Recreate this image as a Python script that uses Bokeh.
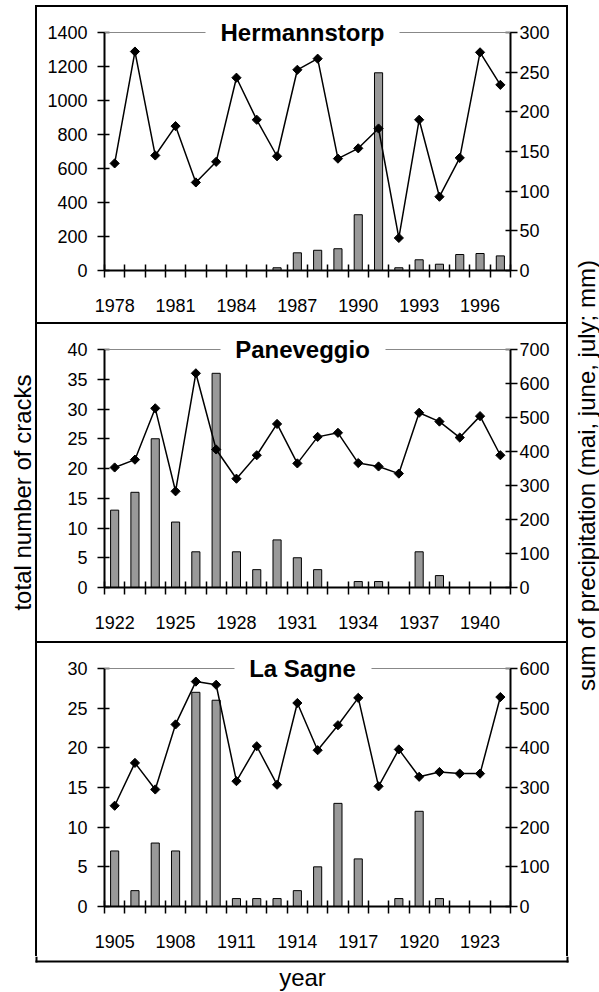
import numpy as np
from bokeh.plotting import figure
from bokeh.models import (Range1d, LinearAxis, FixedTicker, SingleIntervalTicker,
                          Label, BoxAnnotation, Spacer)
from bokeh.layouts import column, row
from bokeh.embed import file_html
from bokeh.resources import INLINE

FONT = "Liberation Sans"

# ---------------- data ----------------
herm_years = list(range(1978, 1998))
herm_cracks = [0, 0, 0, 0, 0, 0, 0, 0, 16, 104, 119, 128, 328, 1163, 16, 63, 37, 94, 100, 86]
herm_precip = [135, 276, 145, 182, 111, 137, 243, 190, 144, 253, 267, 141, 154, 179, 41, 190, 93, 142, 275, 234]
herm_labels = [1978, 1981, 1984, 1987, 1990, 1993, 1996]

pane_years = list(range(1922, 1942))
pane_cracks = [13, 16, 25, 11, 6, 36, 6, 3, 8, 5, 3, 0, 1, 1, 0, 6, 2, 0, 0, 0]
pane_precip = [353, 376, 527, 283, 630, 406, 320, 389, 481, 365, 443, 455, 366, 356, 335, 514, 488, 441, 504, 389]
pane_labels = [1922, 1925, 1928, 1931, 1934, 1937, 1940]

sagne_years = list(range(1905, 1925))
sagne_cracks = [7, 2, 8, 7, 27, 26, 1, 1, 1, 2, 5, 13, 6, 0, 1, 12, 1, 0, 0, 0]
sagne_precip = [254, 362, 295, 459, 567, 559, 316, 404, 307, 513, 394, 457, 526, 303, 396, 327, 339, 335, 335, 528]
sagne_labels = [1905, 1908, 1911, 1914, 1917, 1920, 1923]

# ---------------- layout constants ----------------
PW = 529          # panel width (inside the box)
FRAME_R = 473     # canvas x of right axis
TOPY = 25         # canvas y of the top of the value scale
ZEROY = 263       # canvas y of the zero line
TITLE_X = 265
LW = 2            # box line width
TOP_GAP = 5
LEFT_W = 35
RIGHT_W = 31
H1, H2, H3 = 315, 317, 313
TAIL = 4          # part of the last panel drawn in the bottom strip


def bar_fig(w, h):
    f = figure(width=w, height=h, title=None, toolbar_location=None,
               output_backend="svg", x_axis_location=None, y_axis_location=None,
               min_border=0, styles={"background-color": "black"})
    f.background_fill_color = "black"
    f.border_fill_color = "black"
    f.outline_line_color = None
    return f


def hline():
    return Spacer(width=PW, height=LW, styles={"background-color": "black"})


def text_fig(w, h):
    f = figure(width=w, height=h, title=None, toolbar_location=None,
               output_backend="svg", x_axis_location=None, y_axis_location=None,
               min_border=0)
    f.background_fill_color = "white"
    f.border_fill_color = "white"
    f.outline_line_color = None
    return f


def style_axis(ax):
    ax.axis_line_color = "black"
    ax.axis_line_width = 2
    ax.major_tick_line_color = "black"
    ax.major_tick_line_width = 1.5
    ax.minor_tick_line_color = None
    ax.major_label_text_font = FONT
    ax.major_label_text_font_size = "18px"
    ax.major_label_text_color = "black"


def cbox(**kw):
    return BoxAnnotation(left_units="canvas", right_units="canvas",
                         top_units="canvas", bottom_units="canvas", **kw)


def panel(name, years, cracks, precip, lmax, lstep, rmax, rstep, xlabels,
          frame_l, gap_l, gap_r, height):
    ext = ZEROY / (ZEROY - TOPY)
    p = figure(width=PW, height=height, title=None, toolbar_location=None,
               output_backend="svg",
               x_range=Range1d(years[0] - 0.5, years[-1] + 0.5),
               y_range=Range1d(0, lmax * ext),
               min_border_left=frame_l, min_border_right=PW - FRAME_R,
               min_border_top=0, min_border_bottom=height - ZEROY)
    p.extra_y_ranges = {"prec": Range1d(0, rmax * ext)}
    p.outline_line_color = None
    p.xgrid.visible = False
    p.ygrid.visible = False
    p.background_fill_color = "white"
    p.border_fill_color = "white"

    xa = p.xaxis[0]
    style_axis(xa)
    xa.ticker = FixedTicker(ticks=xlabels,
                            minor_ticks=[y - 0.5 for y in years] + [years[-1] + 0.5])
    xa.major_tick_in = 0
    xa.major_tick_out = 0
    xa.minor_tick_line_color = "black"
    xa.minor_tick_line_width = 1.5
    xa.minor_tick_in = 6
    xa.minor_tick_out = 7
    xa.major_label_standoff = 21

    ya = p.yaxis[0]
    style_axis(ya)
    ya.ticker = SingleIntervalTicker(interval=lstep, num_minor_ticks=0)
    ya.bounds = (0, lmax)
    ya.major_tick_in = 5
    ya.major_tick_out = 7
    ya.major_label_standoff = 10

    ra = LinearAxis(y_range_name="prec",
                    ticker=SingleIntervalTicker(interval=rstep, num_minor_ticks=0))
    style_axis(ra)
    ra.bounds = (0, rmax)
    ra.major_tick_in = 5
    ra.major_tick_out = 7
    ra.major_label_standoff = 2
    p.add_layout(ra, "right")

    p.vbar(x=years, top=cracks, width=0.4, fill_color="#999999",
           line_color="black", line_width=1)
    p.line(x=years, y=precip, y_range_name="prec", line_color="black", line_width=1.5)
    p.scatter(x=years, y=precip, y_range_name="prec", marker="square",
              angle=np.pi / 4, size=6.5, fill_color="black", line_color="black")

    # thin gray line at the top of the plot area, broken by the title
    p.add_layout(cbox(left=frame_l, right=gap_l, top=TOPY - 0.5, bottom=TOPY + 0.5,
                      fill_color="#888888", fill_alpha=1, line_color=None))
    p.add_layout(cbox(left=gap_r, right=FRAME_R, top=TOPY - 0.5, bottom=TOPY + 0.5,
                      fill_color="#888888", fill_alpha=1, line_color=None))
    p.add_layout(Label(x=TITLE_X, y=TOPY, x_units="canvas", y_units="canvas",
                       text=name, text_font=FONT, text_font_style="bold",
                       text_font_size="24px", text_align="center",
                       text_baseline="middle", text_color="black"))
    return p


f1 = panel("Hermannstorp", herm_years, herm_cracks, herm_precip, 1400, 200, 300, 50,
           herm_labels, 67, 168, 362, H1)
f2 = panel("Paneveggio", pane_years, pane_cracks, pane_precip, 40, 5, 700, 100,
           pane_labels, 47, 183, 348, H2)
f3 = panel("La Sagne", sagne_years, sagne_cracks, sagne_precip, 30, 5, 600, 100,
           sagne_labels, 47, 197, 334, H3)

BOX_H = LW + H1 + LW + H2 + LW + H3
panels = column(Spacer(width=PW, height=TOP_GAP),
                hline(), f1, bar_fig(PW, LW), f2, bar_fig(PW, LW), f3)
TOTAL_H = TOP_GAP + BOX_H


def vline():
    return column(Spacer(width=LW, height=TOP_GAP), bar_fig(LW, BOX_H))


fl = text_fig(LEFT_W, TOTAL_H)
fl.add_layout(Label(x=22, y=492, x_units="canvas", y_units="canvas",
                    text="total number of cracks", angle=np.pi / 2,
                    text_font=FONT, text_font_size="24px", text_align="center",
                    text_baseline="middle", text_color="black"))

fr = text_fig(RIGHT_W, TOTAL_H)
fr.add_layout(Label(x=17.5, y=475, x_units="canvas", y_units="canvas",
                    text="sum of precipitation (mai, june, july; mm)", angle=np.pi / 2,
                    text_font=FONT, text_font_size="24px", text_align="center",
                    text_baseline="middle", text_color="black"))

# bottom strip: lower end of the box sides, bottom edge of the box, x axis title
BX_R = LEFT_W + LW + PW + LW
fy = text_fig(599, 992 - TOTAL_H)
fy.add_layout(cbox(left=LEFT_W, right=LEFT_W + LW, top=0, bottom=TAIL + LW,
                   fill_color="black", fill_alpha=1, line_color=None))
fy.add_layout(cbox(left=BX_R - LW, right=BX_R, top=0, bottom=TAIL + LW,
                   fill_color="black", fill_alpha=1, line_color=None))
fy.add_layout(cbox(left=LEFT_W, right=BX_R, top=TAIL, bottom=TAIL + LW,
                   fill_color="black", fill_alpha=1, line_color=None))
fy.add_layout(Label(x=302, y=21, x_units="canvas", y_units="canvas",
                    text="year", text_font=FONT, text_font_size="24px",
                    text_align="center", text_baseline="middle", text_color="black"))

layout = column(row(fl, vline(), panels, vline(), fr), fy)

with open("out.html", "w") as fh:
    fh.write(file_html(layout, INLINE))
